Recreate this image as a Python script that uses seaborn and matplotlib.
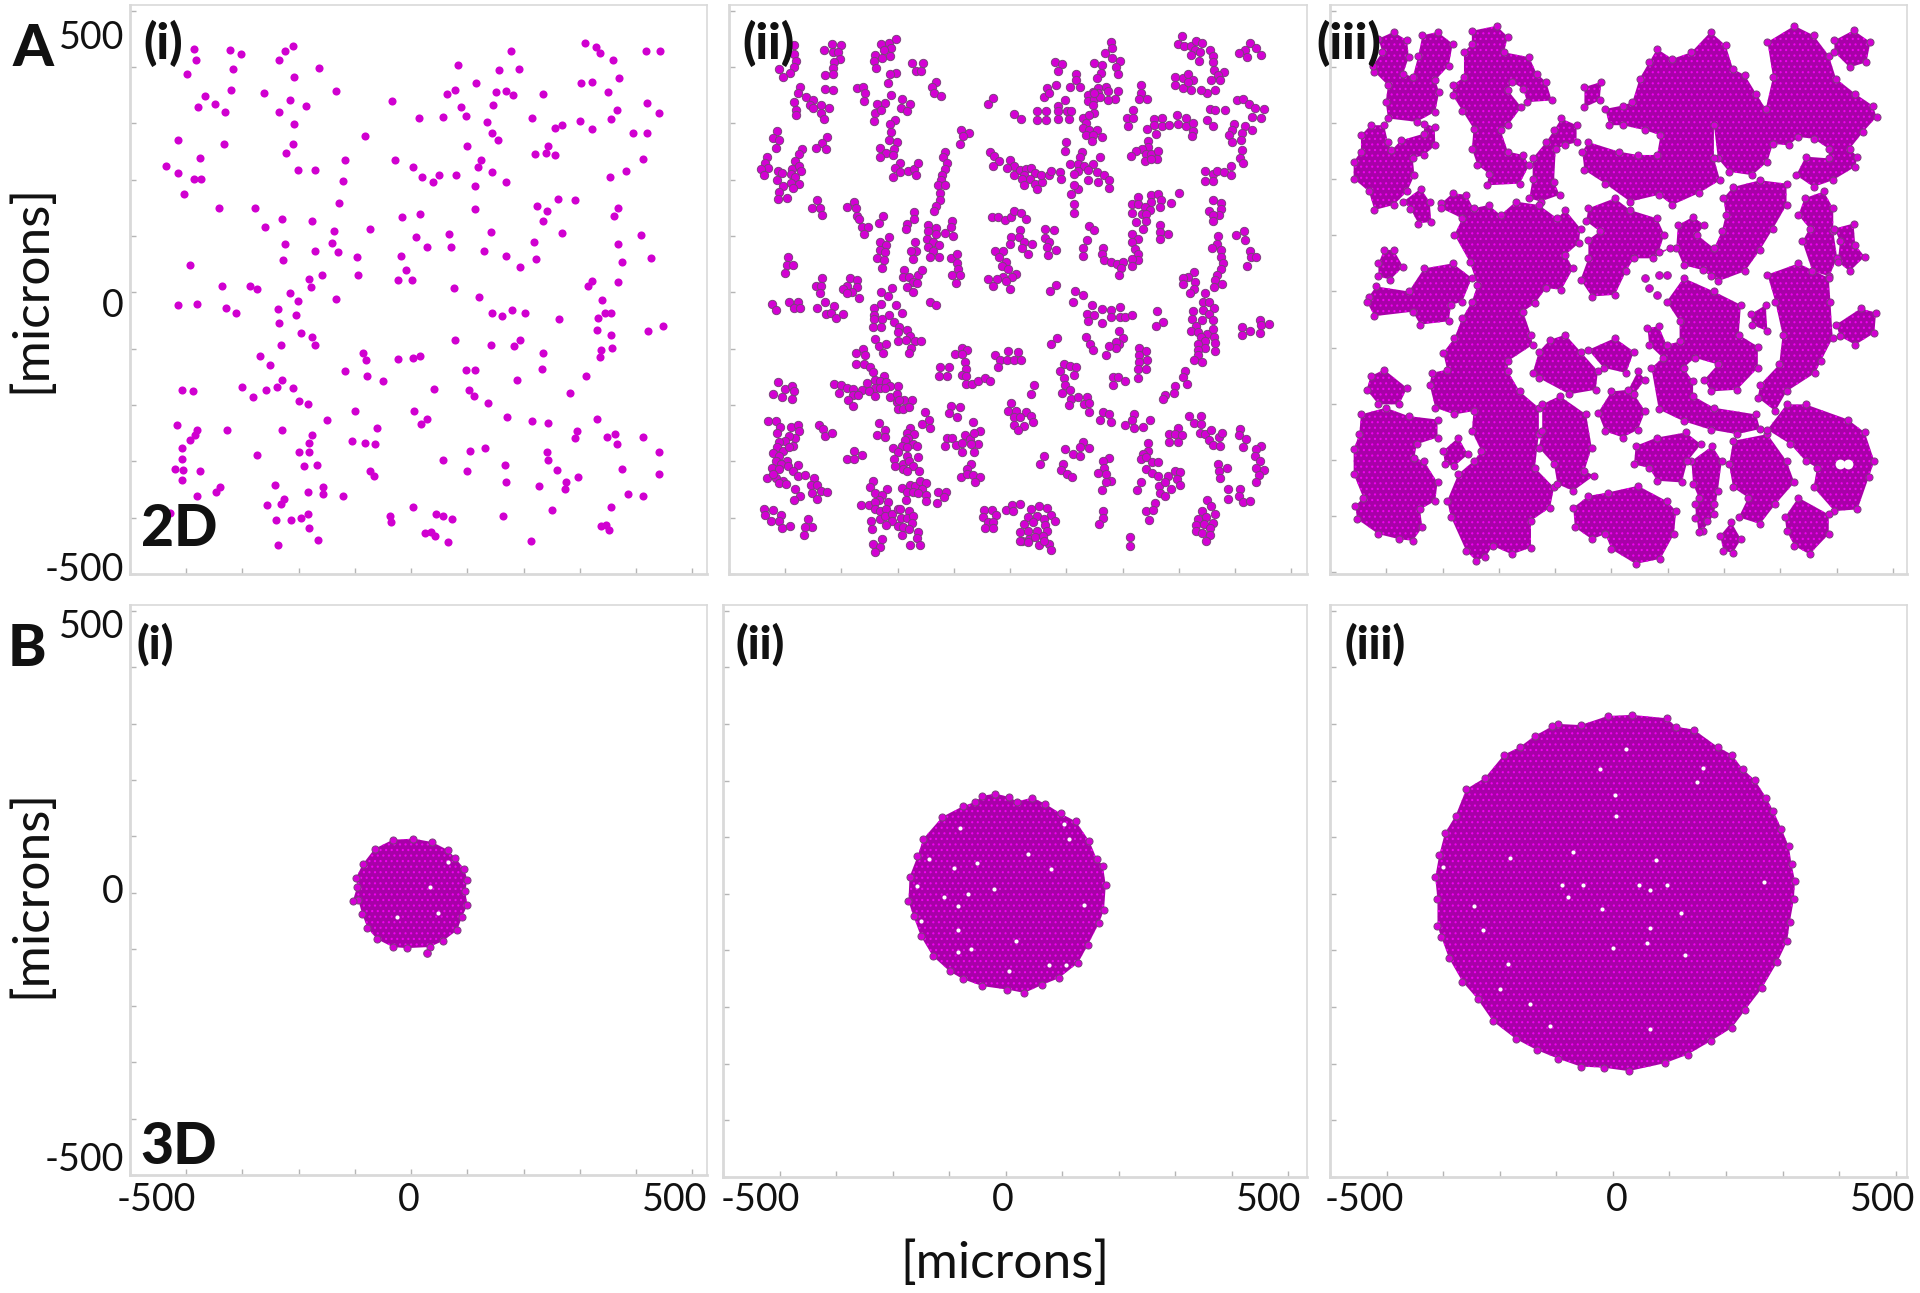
import matplotlib
matplotlib.use('Agg')
import matplotlib.pyplot as plt
import seaborn as sns

# cell positions, in microns
a1_cells = [(-386,432),(-383,412),(-398,388),(-323,430),(-303,423),(-317,396),(-224,428),(-211,437),(-235,412),(-209,383),(-164,398),(-321,359),(-262,354),(-133,358),(-367,348),(-349,334),(-379,329),(-331,320),(-215,342),(-235,320),(-187,330),(-35,339),(-208,298),(-414,271),(-332,263),(-210,264),(-82,277),(-222,247),(-375,238),(-436,224),(-415,212),(-387,201),(-374,201),(-404,174),(-201,217),(-171,217),(-117,234),(-121,197),(-129,159),(-341,150),(-277,149),(-229,130),(-176,127),(-260,116),(-137,109),(-74,112),(-224,86),(-140,87),(-171,74),(-131,71),(-394,49),(-228,58),(-97,62),(-159,30),(-182,24),(-95,30),(-179,10),(-337,11),(-286,11),(-275,6),(-215,-1),(-134,-11),(-201,-15),
(84,403),(177,429),(157,394),(192,397),(115,372),(63,352),(78,360),(151,356),(168,358),(181,350),(88,329),(146,332),(14,310),(56,311),(98,313),(135,302),(144,283),(155,271),(99,259),(-29,235),(3,222),(20,205),(38,195),(49,208),(79,209),(125,234),(118,223),(144,213),(169,196),(113,189),(114,148),(-16,133),(16,139),(8,98),(67,103),(142,107),(29,81),(70,80),(130,73),(-19,64),(169,64),(-9,39),(-23,22),(2,22),(76,8),(120,-8),(194,45),
(234,352),(215,310),(255,292),(268,297),(220,246),(239,247),(244,259),(255,244),(309,442),(329,435),(335,424),(358,412),(418,428),(442,428),(302,372),(321,374),(370,381),(350,356),(419,336),(441,318),(366,323),(355,307),(301,304),(321,290),(395,283),(419,283),(413,237),(382,215),(353,205),(261,165),(291,164),(224,154),(242,145),(234,127),(367,149),(361,135),(269,106),(219,90),(409,101),(367,85),(222,60),(427,61),(375,53),(322,20),(315,12),(368,19),(340,-13),
(-415,-23),(-380,-21),(-330,-28),(-312,-36),(-237,-30),(-204,-40),(-235,-54),(-196,-72),(-177,-80),(-171,-94),(-231,-93),(-268,-113),(-251,-129),(-118,-139),(-86,-108),(-81,-120),(-23,-119),(3,-116),(16,-113),(-78,-148),(-51,-157),(-230,-156),(-238,-168),(-210,-169),(-259,-173),(-301,-168),(-282,-186),(-408,-174),(-388,-175),(-199,-193),(-184,-198),(-100,-211),(-150,-227),(5,-211),(29,-224),(18,-233),(-417,-235),(-381,-244),(-385,-253),(-394,-262),(-328,-245),(-229,-245),(-176,-253),(-60,-241),(-106,-264),(-83,-267),(-64,-270),(-182,-268),(-408,-276),(-199,-283),(-181,-283),(-275,-289),(-408,-296),(-420,-314),(-406,-315),(-376,-318),(-407,-333),(-191,-309),(-167,-307),(-73,-317),(-66,-326),(-340,-345),(-347,-354),(-242,-342),(-157,-345),(-184,-354),(-157,-358),(-122,-362),(-380,-361),(-227,-366),(-231,-375),(-257,-378),(-428,-392),(-240,-404),(-214,-405),(-196,-400),(-184,-394),(-182,-419),(-166,-439),(-236,-449),(-38,-397),(-36,-407),(4,-381),(44,-394),(57,-397),(72,-403),(24,-428),(35,-426),(42,-433),(65,-444),
(143,-37),(162,-42),(180,-31),(202,-37),(263,-47),(332,-46),(344,-37),(355,-36),(330,-67),(355,-76),(421,-68),(447,-59),(78,-85),(142,-93),(182,-96),(193,-84),(235,-107),(337,-103),(357,-98),(335,-115),(97,-138),(114,-138),(232,-137),(189,-155),(311,-148),(102,-174),(112,-184),(41,-171),(137,-197),(282,-179),(170,-221),(215,-229),(243,-232),(330,-225),(295,-246),(291,-259),(348,-257),(362,-252),(366,-270),(412,-256),(131,-276),(104,-282),(242,-284),(243,-298),(440,-284),(56,-297),(166,-307),(99,-317),(259,-315),(374,-314),(441,-322),(169,-336),(296,-328),(276,-337),(274,-350),(228,-343),(386,-358),(413,-362),(356,-381),(250,-387),(163,-397),(337,-415),(347,-413),(352,-422),(213,-441)]

# panel A(ii), one (x, y) pair of lists per cluster
a2_clusters = [
([-384,-384,-380,-385,-392,-404,-411],[439,423,411,400,389,383,396]),
([-331,-317,-300,-315,-307,-303,-313,-315,-315,-329,-329,-315],[431,441,439,426,427,415,409,398,387,386,361,360]),
([-230,-215,-203,-212,-224,-241,-242,-227,-214,-238,-203,-214,-217],[441,442,449,433,430,422,410,416,419,398,390,387,372]),
([-174,-155,-168,-158,-131,-139,-136,-123],[407,407,393,393,374,364,353,349]),
([-374,-377,-384,-363,-351,-356,-351,-336,-323,-380,-381,-337,-331],[365,353,338,347,342,332,328,332,328,324,314,318,308]),
([-273,-261,-258,-260],[362,365,354,340]),
([-212,-222,-236,-241,-230,-242,-192,-178,-194,-183,-205,-213,-212],[350,336,335,318,323,304,343,335,327,321,306,299,285]),
([-414,-421,-411,-416,-326,-335,-345,-327],[286,274,270,257,275,265,256,254]),
([-216,-202,-231,-207,-220,-232,-209,-195,-204,-209,-196,-181,-171,-163,-167],[270,267,257,255,247,240,243,230,221,205,213,215,219,230,208]),
([-371,-375,-432,-436,-431,-443,-438,-412,-406,-414,-382,-388,-376,-372,-390,-382,-404,-390,-375,-386,-411,-397,-412],[254,245,240,229,221,219,208,215,212,199,233,219,224,215,210,204,189,194,193,185,178,168,166]),
([-88,-74,-83,-89],[288,283,277,264]),
([-116,-120,-112,-116,-122,-123,-129,-115,-125,-124,-132,-135],[249,240,230,219,209,200,191,190,176,164,154,144]),
([-35,-29,-20,-30,-1,7,-5,6,18,28,38,25,45,35,21,25,45,57,47,55,69,73,88,91],[249,242,233,224,235,225,220,209,217,219,220,208,211,201,202,191,193,196,183,208,209,215,214,201]),
([99,98,128,124,107,121,132,147,120,138,154,167,176,113,138,157,120,113,109,176,114,114],[267,251,249,240,228,228,224,228,216,217,213,208,200,210,200,196,184,191,175,185,156,141]),
([79,92,86,118,81,65,60,70,118,107,124,98,86,101,108,48,63,86,86,48,63,104,7,20,-40,-30],[409,406,392,388,368,362,347,354,376,365,365,341,331,321,321,321,321,321,307,305,306,307,316,307,334,345]),
([180,169,182,182,195,150,164,189,162,192,154,170,157,147,138,157,174,191,138,150,160,187,174,147,149,130,140,135,130,140,154,135,147,164,145,159,150],[445,424,433,416,410,407,403,400,389,387,380,365,363,356,350,353,357,357,340,344,347,343,342,332,319,310,314,300,291,288,288,280,279,275,268,240,353]),
([232,232,230,243,218,208,219,210,243,255,270,256,270,283,296,298,313,312,325,259,326,324,245,245,235,224,215,242,251,263,262,240,250],[368,353,343,343,324,310,310,296,290,308,310,297,295,297,315,299,310,296,300,281,287,277,269,258,254,251,242,246,246,251,237,233,236]),
([305,298,310,322,330,342,329,337,322,336,356,360,360,363,380,369,373,358,365,351,340,293,307,317,325,293,308,321,316],[455,441,438,437,446,443,431,427,421,411,430,420,408,395,391,385,376,376,360,354,359,383,381,388,377,368,363,360,373]),
([426,438,447,417,407,422],[442,434,422,430,424,418]),
([356,364,383,351,361,403,415,425,436,452,430,446,398,417,431,395,412,390,394,410,412,408,414],[326,323,323,305,296,341,344,334,328,325,312,309,299,296,288,289,283,279,267,270,252,239,229]),
([346,361,368,380,392,392,346,361],[216,210,215,213,224,208,198,197]),
([-344,-353,-339,-334,-290,-278,-275,-273,-268,-263,-252,-260,-233,-226,-171,-171,-183,-185],[163,150,149,137,152,161,150,135,130,116,116,103,123,136,143,131,122,112]),
([-146,-132,-131,-146,-148,-137,-126,-146,-137,-126,-142,-169,-167,-177,-172,-215,-231,-220,-232,-223,-236,-225,-227],[120,114,104,108,95,89,84,80,74,62,63,89,74,73,59,98,90,84,76,71,61,57,43]),
([-103,-105,-115,-101,-106,-95,-95,-93,-103,-90,-97],[127,116,106,100,61,68,52,41,31,30,16]),
([-32,-22,-10,1,7,19,28,18,1,16,-1,24,39,21,31,-27,-12,-20,-7,-15,-3,11,3,-13,-39,-23,-7,-30,-1],[133,133,128,134,144,141,130,111,98,98,86,89,86,79,68,74,74,62,53,47,41,33,27,27,24,24,20,12,6]),
([62,78,62,69,65,81,67],[113,110,97,89,80,75,67]),
([140,150,137,130,130],[117,110,93,79,64]),
([166,164,167,179,190,200,198,194],[79,68,58,53,50,53,43,30]),
([217,228,217,222,228,228,217,217],[103,95,89,77,68,58,59,47]),
([228,251,263,268,250,287,300,217,228,239,249,217,235,242,224,242,237,266,267,280,266,266],[169,173,174,164,161,159,176,156,156,151,147,141,139,139,124,127,113,151,120,103,107,95]),
([360,375,354,375,371,360,361],[163,159,145,148,137,137,126]),
([402,416,417,426,428,437,421],[102,108,93,73,62,62,47]),
([370,368,359,375,375,379,375,368,364,376,362],[100,86,78,75,62,52,42,31,21,15,9]),
([327,317,308,329,307,327,320,346],[36,28,25,18,14,6,-2,-2]),
([-395,-397,-386,-401],[62,49,49,34]),
([-335,-346,-336,-338],[25,12,12,-2]),
([-284,-273,-291,-298,-273,-281,-291,-268],[25,21,12,6,10,0,-2,-10]),
([-188,-190,-179,-163,-156,-173,-166,-183,-172,-210,-229,-217],[40,27,27,30,39,18,16,9,0,8,1,-6]),
([81,71,116,130],[13,3,2,-4]),
([-423,-417,-393,-377,-385,-373,-343,-329,-314,-327,-319,-310,-298],[-21,-31,-17,-17,-28,-28,-27,-18,-24,-39,-37,-46,-39]),
([-242,-242,-242,-229,-227,-215,-203,-193,-206,-244,-230,-198,-200,-183,-178,-200,-186,-169,-158,-177,-179,-241,-234,-221,-226,-142,-131],[-27,-41,-47,-20,-47,-40,-22,-36,-52,-62,-62,-61,-71,-67,-77,-86,-85,-86,-86,-98,-108,-83,-95,-92,-107,-17,-23]),
([112,145,137,149,164,179,164,179,195,195,205,216,138],[-17,-23,-38,-40,-30,-31,-55,-44,-26,-43,-44,-40,-51]),
([262,271,259,193,200,194,188,188,175,171,135,142,148,72,84],[-33,-52,-59,-69,-81,-91,-89,-98,-96,-111,-80,-91,-102,-91,-81]),
([343,353,325,362,343,353,361,324,342,330,321,335,351,361,339,362,347,364,335,347,334,364,334,327,342],[-18,-18,-33,-28,-31,-39,-49,-47,-50,-59,-68,-71,-74,-66,-80,-80,-86,-90,-92,-98,-102,-105,-112,-120,-124]),
([412,412,426,445,445,446,460],[-61,-76,-68,-72,-49,-58,-56]),
([230,241,230,243,230,241,228,227,183,191,205,183],[-98,-105,-112,-120,-124,-136,-137,-152,-150,-151,-157,-164]),
([311,307,315,294,292,276,271],[-139,-151,-163,-167,-178,-183,-190]),
([-262,-275,-258,-275,-260,-249,-244,-241,-225,-232,-220,-241,-232,-255,-263,-251,-241,-214,-200,-213,-202,-202,-189,-174,-200,-191,-179,-314,-300,-290,-279,-304,-280,-271,-288,-279,-223,-197],[-101,-108,-112,-127,-127,-133,-142,-156,-148,-157,-160,-169,-170,-161,-173,-175,-184,-166,-167,-186,-180,-195,-192,-191,-207,-207,-204,-162,-165,-170,-172,-178,-183,-183,-192,-201,-170,-191]),
([-412,-421,-406,-400,-388,-384,-388],[-159,-180,-186,-172,-167,-176,-190]),
([-125,-108,-127,-112,-98,-86,-77,-86,-81,-78,-86,-78,-78,-67,-57,-44,-35,-27,-18,-3,14,-5,7,20,-22],[-132,-132,-148,-148,-110,-98,-102,-110,-124,-136,-146,-148,-163,-162,-157,-152,-158,-111,-120,-105,-106,-121,-121,-121,-133]),
([43,38,1,-3,11,28,38,7,18,7,24,41,14],[-165,-180,-197,-210,-210,-213,-219,-222,-221,-235,-237,-231,-244]),
([96,106,118,89,113,96,97,106,92,109,104,121,137,131,141,141],[-127,-130,-132,-140,-146,-152,-164,-173,-179,-189,-200,-185,-185,-198,-197,-212]),
([166,176,160,180,205,220,216,220,237,249],[-212,-216,-226,-231,-236,-216,-226,-240,-239,-227]),
([319,339,327,339,298,283,293,305,282,298],[-220,-219,-232,-233,-240,-252,-252,-253,-266,-266]),
([-431,-417,-410,-415,-390,-378,-375,-382,-394,-400,-411,-387,-414,-421,-404,-394,-411,-397,-417,-407,-424,-395,-411,-378,-387,-377,-365,-432,-417,-404,-411,-399,-421,-382,-373,-385],[-228,-229,-239,-250,-239,-236,-247,-258,-255,-264,-266,-273,-275,-285,-281,-275,-290,-299,-299,-305,-311,-308,-314,-306,-318,-326,-324,-329,-329,-335,-338,-340,-323,-349,-361,-369]),
([-340,-332,-330,-316],[-236,-243,-255,-250]),
([-277,-290,-277,-263],[-281,-295,-296,-289]),
([-349,-355,-343,-336,-353,-326,-344],[-330,-342,-342,-352,-357,-355,-367]),
([-233,-222,-237,-222],[-232,-244,-253,-256]),
([-178,-184,-171,-182,-187,-173,-209,-193,-183,-166,-200,-207,-183,-163,-191,-179,-205,-190,-173,-183,-162],[-240,-249,-252,-259,-263,-269,-276,-273,-275,-273,-284,-296,-290,-293,-305,-299,-309,-314,-308,-317,-317]),
([-151,-145,-157,-143],[-213,-227,-233,-240]),
([-106,-90,-108,-95],[-201,-203,-215,-221]),
([-66,-54,-81,-71,-64,-112,-103,-115,-96,-86,-86,-57,-69,-65],[-231,-246,-253,-261,-249,-258,-258,-272,-271,-268,-283,-269,-270,-284]),
([-69,-77,-87,-77,-66,-54,-62],[-305,-314,-327,-323,-324,-327,-336]),
([61,54,98,112,125,130,125,141,94,91,101,110],[-291,-305,-279,-287,-290,-266,-275,-276,-304,-315,-323,-327]),
([176,166,167,157,171,164,179,171],[-294,-300,-311,-321,-323,-351,-335,-337]),
([245,245,237,232,242,253,263,242,253,263,232,225,265,281,293,302,276,296,303,286,266,276,257,242,254,247],[-268,-281,-287,-295,-293,-302,-302,-313,-320,-326,-337,-351,-343,-326,-317,-319,-337,-332,-342,-349,-357,-361,-374,-389,-387,-404]),
([337,346,358,371,376,354,361,373],[-249,-252,-245,-256,-249,-263,-271,-273]),
([409,407,419,415,447,437,435,444,437,452,443,437],[-243,-253,-260,-274,-272,-278,-291,-299,-311,-315,-324,-336]),
([370,385,371,373],[-305,-311,-317,-330]),
([387,409,387,407,414,426],[-350,-349,-366,-361,-373,-370]),
([-244,-249,-241,-219,-227,-234,-266,-251,-241,-217,-241,-231,-220,-248,-232,-223,-210,-210,-220,-246,-200,-195,-179,-194,-184,-173,-200,-190,-175,-179,-193,-163,-166,-161,-178,-244,-228,-232,-241],[-335,-345,-357,-349,-360,-368,-378,-377,-373,-373,-385,-388,-385,-406,-403,-397,-394,-406,-413,-420,-385,-385,-388,-400,-400,-397,-414,-417,-410,-420,-431,-425,-436,-449,-449,-447,-438,-452,-461]),
([-192,-178,-169,-160,-149,-156,-183,-173,-163,-149,-149,-185,-129,-114,-118,-130],[-348,-342,-343,-335,-339,-349,-355,-355,-357,-360,-370,-369,-354,-355,-364,-374]),
([-437,-422,-436,-408,-411,-426,-405,-392,-360,-353,-365,-367],[-385,-386,-395,-395,-406,-406,-419,-415,-403,-416,-417,-431]),
([-46,-32,-48,-25,-39,-30,-45,-31,-8,4,18,5],[-387,-386,-398,-396,-407,-408,-419,-418,-387,-377,-376,-388]),
([38,52,65,72,48,60,79,31,24,41,62,18,31,48,65,21,33,45,58,18,52,69,73,31,60],[-385,-380,-383,-395,-397,-403,-406,-398,-411,-408,-413,-425,-423,-423,-423,-441,-438,-435,-432,-442,-449,-447,-458,-444,-442]),
([166,166,158,213,213],[-388,-401,-411,-434,-450]),
([351,358,341,364,349,334,330,344,361,331,341,355,355,349],[-368,-380,-388,-394,-399,-403,-413,-411,-410,-423,-428,-418,-431,-441]),
]

# panel A(iii): outlines of the packed colonies
a3_colonies = [
[(-414,450),(-387,462),(-363,447),(-360,417),(-370,388),(-353,382),(-343,420),(-336,456),(-309,462),(-282,441),(-289,402),(-313,376),(-306,355),(-313,320),(-346,302),(-397,308),(-401,337),(-397,367),(-421,391),(-424,402),(-407,426)],
[(-428,296),(-404,296),(-397,266),(-391,251),(-374,269),(-333,281),(-333,299),(-314,293),(-313,260),(-333,243),(-353,237),(-350,207),(-363,178),(-387,154),(-421,145),(-431,178),(-458,201),(-458,231),(-445,249),(-445,278)],
[(-370,160),(-339,183),(-323,160),(-320,124),(-343,121),(-357,147)],
[(-248,464),(-204,473),(-184,453),(-191,426),(-146,417),(-133,388),(-116,373),(-106,340),(-150,337),(-157,361),(-177,373),(-184,358),(-160,328),(-184,296),(-197,287),(-184,249),(-157,243),(-146,225),(-163,192),(-221,189),(-218,210),(-238,225),(-248,254),(-245,290),(-265,322),(-282,349),(-282,367),(-262,382),(-262,426),(-248,441)],
[(-89,308),(-62,296),(-62,266),(-82,260),(-99,254),(-102,195),(-92,172),(-126,160),(-146,166),(-140,201),(-140,237),(-116,266),(-102,287)],
[(-48,364),(-18,373),(-21,340),(-48,328)],
[(-11,325),(20,331),(37,337),(50,379),(67,408),(81,432),(108,414),(142,426),(176,462),(203,438),(216,396),(237,385),(257,352),(274,325),(287,382),(277,444),(325,473),(359,456),(386,420),(399,379),(433,352),(464,331),(471,311),(447,284),(423,254),(437,240),(433,222),(393,198),(359,186),(328,207),(345,240),(386,237),(386,254),(359,272),(332,275),(315,260),(287,263),(277,231),(250,207),(209,213),(189,237),(182,296),(182,237),(193,198),(155,175),(108,154),(84,172),(33,160),(-11,192),(-48,216),(-52,249),(-41,266),(13,249),(47,243),(81,243),(87,278),(60,287),(20,296),(-4,296)],
[(396,447),(430,465),(460,444),(453,408),(423,399),(396,426)],
[(216,186),(264,198),(311,192),(311,154),(287,112),(264,74),(237,36),(189,18),(176,27),(162,38),(128,47),(115,77),(118,118),(145,133),(165,118),(152,101),(182,77),(196,107),(203,136),(199,166)],
[(343,166),(377,178),(394,148),(394,107),(401,60),(387,27),(357,36),(339,89),(352,112),(332,136)],
[(396,112),(430,121),(433,83),(450,62),(423,36),(402,53),(406,89)],
[(-41,148),(6,166),(33,145),(81,130),(94,101),(84,71),(104,77),(74,59),(40,59),(26,36),(6,-6),(-35,-9),(-55,21),(-41,59),(-41,92),(-21,107),(-45,125)],
[(-302,157),(-282,175),(-258,172),(-245,148),(-218,154),(-197,136),(-170,160),(-129,154),(-96,130),(-82,145),(-55,112),(-58,86),(-82,65),(-68,41),(-89,3),(-116,6),(-136,-21),(-157,-36),(-143,-77),(-140,-95),(-184,-124),(-184,-142),(-163,-178),(-129,-207),(-129,-254),(-136,-314),(-102,-349),(-109,-385),(-143,-408),(-143,-456),(-177,-468),(-211,-453),(-224,-473),(-241,-479),(-258,-462),(-285,-402),(-292,-373),(-272,-325),(-245,-302),(-231,-284),(-248,-249),(-245,-213),(-279,-219),(-313,-207),(-323,-166),(-319,-145),(-292,-139),(-299,-109),(-279,-83),(-265,-47),(-248,-18),(-238,12),(-252,53),(-279,101),(-265,130),(-302,148)],
[(-431,-9),(-418,9),(-360,0),(-333,41),(-282,50),(-248,24),(-265,-18),(-285,-24),(-289,-53),(-340,-59),(-353,-36),(-421,-44),(-435,-18)],
[(-428,-151),(-404,-139),(-363,-172),(-377,-201),(-414,-201),(-435,-175)],
[(-445,-219),(-401,-207),(-360,-222),(-309,-228),(-309,-260),(-346,-272),(-350,-296),(-333,-302),(-309,-340),(-313,-373),(-340,-388),(-336,-420),(-353,-444),(-377,-441),(-414,-432),(-452,-405),(-455,-382),(-441,-367),(-458,-325),(-458,-281),(-448,-254)],
[(-299,-284),(-272,-260),(-255,-290),(-279,-311),(-296,-308)],
[(-109,-86),(-82,-77),(-55,-107),(-24,-142),(-28,-175),(-75,-183),(-129,-154),(-140,-145),(-129,-107)],
[(-41,-104),(6,-83),(40,-107),(26,-145),(-14,-136)],
[(-123,-201),(-92,-186),(-45,-219),(-35,-278),(-48,-319),(-31,-328),(-68,-355),(-96,-343),(-102,-308),(-129,-278),(-123,-248)],
[(47,-142),(60,-157),(40,-183),(60,-213),(47,-246),(20,-260),(-11,-249),(-24,-216),(0,-178),(30,-175)],
[(98,-18),(128,24),(182,0),(230,-24),(226,-77),(260,-98),(260,-136),(223,-175),(176,-178),(165,-157),(189,-130),(148,-118),(128,-136),(145,-160),(145,-186),(182,-207),(257,-219),(264,-245),(223,-254),(176,-246),(128,-231),(84,-210),(71,-136),(91,-118),(67,-95),(64,-65),(84,-62),(98,-95),(121,-89),(121,-53)],
[(277,30),(332,50),(386,24),(389,-18),(393,-83),(372,-124),(362,-145),(311,-178),(291,-213),(260,-189),(264,-166),(298,-130),(304,-77),(291,-18)],
[(399,-59),(443,-30),(470,-38),(467,-74),(433,-95),(406,-80)],
[(247,-41),(274,-24),(277,-71),(250,-59)],
[(193,-435),(213,-411),(230,-441),(216,-465),(199,-462)],
[(142,-302),(179,-275),(196,-302),(189,-355),(182,-397),(162,-426),(148,-403),(155,-367),(145,-343)],
[(43,-275),(81,-260),(132,-251),(159,-272),(135,-302),(125,-340),(81,-337),(67,-314),(40,-308)],
[(-68,-385),(-41,-364),(-7,-358),(47,-346),(98,-373),(115,-391),(111,-432),(87,-476),(43,-485),(0,-459),(-11,-432),(-35,-441),(-65,-420)],
[(216,-266),(277,-254),(311,-302),(325,-340),(291,-379),(264,-414),(226,-402),(243,-367),(216,-349),(209,-308)],
[(277,-246),(311,-201),(345,-201),(420,-228),(450,-251),(467,-302),(457,-331),(437,-388),(396,-391),(359,-349),(365,-314),(345,-302),(318,-272)],
[(308,-402),(332,-367),(386,-397),(386,-432),(352,-468),(325,-453),(311,-426)],
[(148,-379),(182,-379),(169,-408),(155,-429)],
[(-404,74),(-387,74),(-370,44),(-393,21),(-414,27),(-414,50)],
]
a3_loose = [(60,24),(84,30),(98,30),(67,6),(81,-6)]
a3_gaps = [(406,-308),(420,-308)]

# panels B: disc outlines, stray cells and the small gaps inside
b1_outline = [(-33,94),(4,96),(37,90),(65,76),(78,62),(94,43),(100,23),(96,3),(100,-22),(90,-43),(82,-66),(57,-85),(33,-96),(-8,-98),(-33,-96),(-61,-82),(-78,-62),(-87,-38),(-94,-13),(-104,-15),(-96,11),(-98,27),(-86,51),(-65,78)]
b1_stray = [(29,-107)]
b1_gaps = [(34,10),(48,-35),(-25,-42),(66,55)]
b2_outline = [(-41,173),(-18,177),(6,171),(20,163),(47,170),(70,159),(97,142),(124,128),(148,93),(161,62),(172,50),(177,15),(174,-28),(165,-52),(145,-91),(128,-122),(94,-149),(64,-161),(33,-175),(3,-169),(-41,-163),(-75,-151),(-99,-137),(-129,-110),(-150,-75),(-163,-40),(-172,-13),(-170,30),(-156,66),(-146,97),(-112,136),(-75,155),(-55,162)]
b2_gaps = [(-80,116),(40,70),(-50,55),(-92,45),(80,44),(-20,9),(-66,-1),(-109,-5),(-85,-22),(-157,14),(138,-19),(-149,-48),(-85,-63),(-61,-98),(-84,-102),(18,-83),(112,97),(104,124),(107,-126),(76,-126),(6,-136),(-136,62)]
b3_outline = [(-97,300),(-57,298),(-9,314),(34,316),(95,310),(112,295),(143,290),(186,259),(210,246),(230,220),(251,201),(271,170),(284,146),(298,115),(311,84),(316,52),(322,23),(320,-10),(313,-49),(308,-84),(291,-120),(264,-166),(234,-205),(210,-237),(173,-260),(132,-284),(92,-299),(28,-313),(-16,-307),(-57,-305),(-97,-291),(-134,-276),(-172,-256),(-212,-225),(-239,-186),(-266,-155),(-290,-113),(-303,-77),(-310,-57),(-310,-10),(-314,29),(-307,68),(-297,107),(-278,138),(-259,185),(-226,205),(-192,246),(-165,259),(-138,279),(-107,296)]
b3_gaps = [(-182,64),(-300,47),(-246,-22),(-230,-63),(-70,73),(-53,15),(-89,15),(46,15),(66,7),(-20,-26),(-80,-6),(121,-34),(66,-61),(61,-87),(0,-95),(127,-108),(65,-239),(-111,-233),(-199,-168),(-146,-195),(149,197),(23,255),(4,174),(5,137),(77,60),(268,21),(95,15),(-186,-124),(-23,221),(160,223)]

tick_labels = ['-500', '0', '500']

BRIGHT = '#f200f2'
DENSE = '#a800a8'
FRAME = '#d9d9d9'
W, H = 1920, 1293

sns.set_style('white')
plt.rcParams['font.family'] = ['Lato', 'DejaVu Sans']
plt.rcParams['hatch.linewidth'] = 0.8

fig = plt.figure(figsize=(W / 100, H / 100), dpi=100)


def panel(left, right, top, bottom, xlim, ylim):
    ax = fig.add_axes([left / W, 1 - bottom / H, (right - left) / W, (bottom - top) / H])
    ax.set_xlim(*xlim)
    ax.set_ylim(*ylim)
    ax.set_xticks(range(-500, 501, 100))
    ax.set_yticks(range(-500, 501, 100))
    ax.set_xticklabels([])
    ax.set_yticklabels([])
    ax.tick_params(direction='in', length=4, width=1, color='#b5b5b5', left=True, bottom=True)
    for s in ax.spines.values():
        s.set_color(FRAME)
        s.set_linewidth(1.2)
    ax.spines['left'].set_linewidth(2)
    ax.spines['bottom'].set_linewidth(2)
    return ax


def dots(ax, pts, s=36, color='#d400d4', edge='#7d3f7d', lw=0.7):
    xs = [p[0] for p in pts]
    ys = [p[1] for p in pts]
    sns.scatterplot(x=xs, y=ys, s=s, color=color, edgecolor=edge, linewidth=lw, ax=ax, legend=False, zorder=3)


def mass(ax, outline, gaps=()):
    ax.fill([p[0] for p in outline], [p[1] for p in outline], facecolor=DENSE, edgecolor=BRIGHT,
            hatch='...', linewidth=0, zorder=2)
    dots(ax, outline, s=26)
    if gaps:
        dots(ax, gaps, s=9, color='white', edge='white', lw=0)


a1 = panel(130, 707, 5, 574, (-500, 526), (-500, 510))
a2 = panel(729, 1307, 5, 574, (-500, 528), (-500, 510))
a3 = panel(1330, 1907, 5, 574, (-499, 525), (-503, 510))
b1 = panel(130, 707, 605, 1175, (-500, 526), (-500, 510))
b2 = panel(723, 1307, 605, 1177, (-499, 533), (-497, 510))
b3 = panel(1330, 1907, 605, 1177, (-499, 520), (-497, 510))

dots(a1, a1_cells, s=34, color='#d000d0', edge='#d000d0', lw=0)

a2_cells = []
for xs, ys in a2_clusters:
    a2_cells += list(zip(xs, ys))
dots(a2, a2_cells, s=36)

for colony in a3_colonies:
    mass(a3, colony)
dots(a3, a3_loose, s=30)
dots(a3, a3_gaps, s=50, color='white', edge='white', lw=0)

mass(b1, b1_outline, b1_gaps)
dots(b1, b1_stray, s=30)
mass(b2, b2_outline, b2_gaps)
mass(b3, b3_outline, b3_gaps)


def label(px, py, txt, size, weight='normal', ha='center', rotation=0):
    fig.text(px / W, 1 - py / H, txt, fontsize=size, fontweight=weight, ha=ha, va='center',
             rotation=rotation, color='#111111')


# y tick labels
for py, txt in zip([38, 306, 570], ['500', '0', '-500']):
    label(124, py, txt, 27, ha='right')
for py, txt in zip([627, 892, 1160], ['500', '0', '-500']):
    label(124, py, txt, 27, ha='right')
# x tick labels
for centres in ([156, 409, 675], [760, 1003, 1269], [1364, 1617, 1883]):
    for px, txt in zip(centres, tick_labels):
        label(px, 1200, txt, 27)

label(31, 288, '[microns]', 37, rotation=90)
label(31, 893, '[microns]', 37, rotation=90)
label(1005, 1264, '[microns]', 37)

label(33, 49, 'A', 42, 'black')
label(27, 649, 'B', 42, 'black')
label(163, 43, '(i)', 35, 'black')
label(768, 43, '(ii)', 35, 'black')
label(1349, 43, '(iii)', 35, 'black')
label(155, 645, '(i)', 33, 'black')
label(760, 645, '(ii)', 33, 'black')
label(1375, 645, '(iii)', 33, 'black')
label(179, 530, '2D', 41, 'black')
label(179, 1147, '3D', 41, 'black')

fig.savefig('out.png', dpi=100)
